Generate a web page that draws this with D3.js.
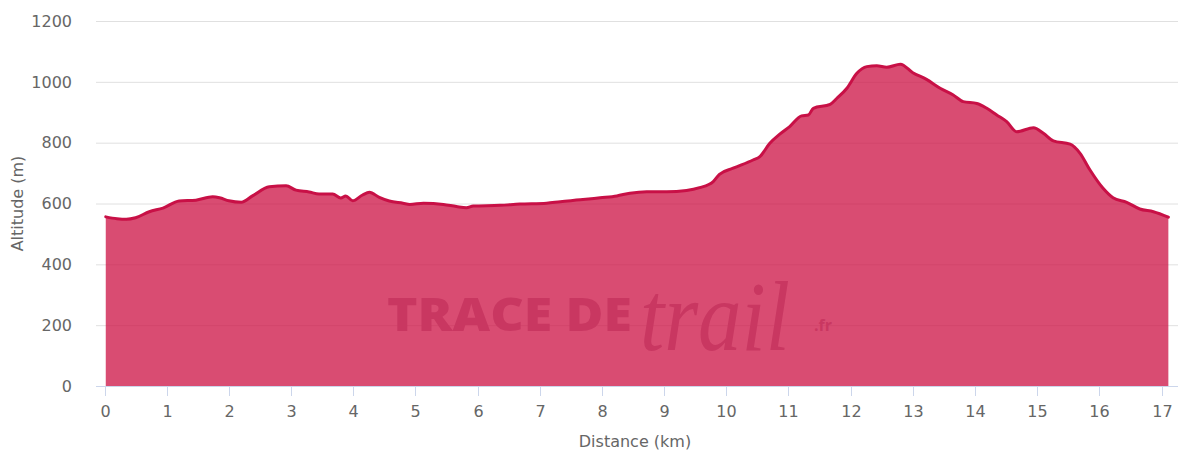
<!DOCTYPE html>
<html>
<head>
<meta charset="utf-8">
<script src="https://cdn.jsdelivr.net/npm/d3@7/dist/d3.min.js"></script>
<style>
  html, body { margin: 0; padding: 0; background: #fff; }
  svg { display: block; font-family: "DejaVu Sans", sans-serif; }
</style>
</head>
<body>
<svg id="chart" width="1178" height="454"></svg>
<script>
const distances = [0.02,0.2,0.35,0.5,0.72,0.94,1.2,1.47,1.74,1.85,2.0,2.2,2.38,2.65,2.92,3.08,3.29,3.45,3.67,3.8,3.88,3.99,4.15,4.26,4.42,4.58,4.8,4.91,5.13,5.45,5.66,5.82,5.93,6.36,6.68,7.11,7.33,7.65,7.97,8.24,8.45,8.72,9.04,9.36,9.57,9.79,9.89,10.11,10.43,10.54,10.7,10.86,11.02,11.21,11.32,11.4,11.67,11.78,11.94,12.1,12.26,12.42,12.58,12.8,13.0,13.22,13.44,13.65,13.81,14.03,14.19,14.35,14.51,14.67,14.94,15.1,15.26,15.53,15.69,15.85,16.06,16.22,16.44,16.65,16.87,17.11];
const altitudes = [556,550,548,553,573,585,608,611,622,619,609,604,625,655,658,644,638,631,631,618,625,609,628,637,620,608,601,597,601,597,590,586,592,594,598,601,606,612,619,625,634,639,639,643,652,672,696,716,743,754,798,828,853,888,891,913,926,946,979,1028,1050,1053,1048,1058,1030,1008,979,957,935,929,913,891,869,836,849,831,806,795,765,710,650,619,604,582,573,555];
const yTicks = [0,200,400,600,800,1000,1200];
const xTicks = [0,1,2,3,4,5,6,7,8,9,10,11,12,13,14,15,16,17];
const xTitle = "Distance (km)";
const yTitle = "Altitude (m)";

const data = distances.map((d, i) => ({ d, a: altitudes[i] }));

const plotLeft = 96, plotRight = 1178, plotTop = 21, plotBottom = 386;
const x = d3.scaleLinear().domain([-0.137, 17.265]).range([plotLeft, plotRight]);
const y = d3.scaleLinear().domain([0, 1200]).range([plotBottom, plotTop]);

const svg = d3.select("#chart");

// grid lines
svg.append("g").selectAll("line").data(yTicks.filter(t => t > 0)).join("line")
  .attr("x1", plotLeft).attr("x2", plotRight)
  .attr("y1", d => y(d) + 0.5).attr("y2", d => y(d) + 0.5)
  .attr("stroke", "#e0e0e0").attr("stroke-width", 1);

// watermark (behind the semi-transparent area)
const wm = svg.append("g").attr("fill", "rgb(190,172,188)");
wm.append("text").attr("x", 387).attr("y", 331)
  .attr("font-family", "'Open Sans', 'DejaVu Sans', sans-serif")
  .attr("font-weight", 800).attr("font-size", 46)
  .attr("textLength", 245).attr("lengthAdjust", "spacingAndGlyphs")
  .text("TRACE DE");
wm.append("text").attr("x", 640).attr("y", 350)
  .attr("font-family", "'Liberation Serif', serif").attr("font-style", "italic")
  .attr("font-size", 100)
  .attr("textLength", 150).attr("lengthAdjust", "spacingAndGlyphs")
  .text("trail");
wm.append("text").attr("x", 814).attr("y", 331)
  .attr("font-family", "'Open Sans', sans-serif").attr("font-weight", 700)
  .attr("font-size", 16).text(".fr");

// area
const area = d3.area().x(d => x(d.d)).y0(y(0)).y1(d => y(d.a)).curve(d3.curveMonotoneX);
const line = d3.line().x(d => x(d.d)).y(d => y(d.a)).curve(d3.curveMonotoneX);

svg.append("path").datum(data).attr("d", area)
  .attr("fill", "rgb(204,16,67)").attr("fill-opacity", 0.75);
svg.append("path").datum(data).attr("d", line)
  .attr("fill", "none").attr("stroke", "rgb(200,16,70)").attr("stroke-width", 3)
  .attr("stroke-linejoin", "round").attr("stroke-linecap", "round");

// x axis
const xAxis = svg.append("g");
xAxis.append("line").attr("x1", plotLeft).attr("x2", plotRight)
  .attr("y1", plotBottom + 0.5).attr("y2", plotBottom + 0.5)
  .attr("stroke", "#ccd6eb").attr("stroke-width", 1);
const xt = xAxis.selectAll("g.tick").data(xTicks).join("g").attr("class", "tick")
  .attr("transform", d => `translate(${Math.round(x(d)) + 0.5},0)`);
xt.append("line").attr("y1", plotBottom).attr("y2", plotBottom + 10)
  .attr("stroke", "#ccd6eb").attr("stroke-width", 1);
xt.append("text").attr("y", 417).attr("text-anchor", "middle")
  .attr("font-size", 16).attr("fill", "#666").text(d => d);

// y axis labels
svg.append("g").selectAll("text").data(yTicks).join("text")
  .attr("x", 72).attr("y", d => y(d)).attr("dy", "0.36em")
  .attr("text-anchor", "end").attr("font-size", 16).attr("fill", "#666")
  .text(d => d);

// titles
svg.append("text").attr("x", (plotLeft + 1178) / 2 - 2).attr("y", 447)
  .attr("text-anchor", "middle").attr("font-size", 16).attr("fill", "#666")
  .text(xTitle);
svg.append("text").attr("transform", `translate(23,${(plotTop + plotBottom) / 2}) rotate(-90)`)
  .attr("text-anchor", "middle").attr("font-size", 16).attr("fill", "#666")
  .text(yTitle);
</script>
</body>
</html>
